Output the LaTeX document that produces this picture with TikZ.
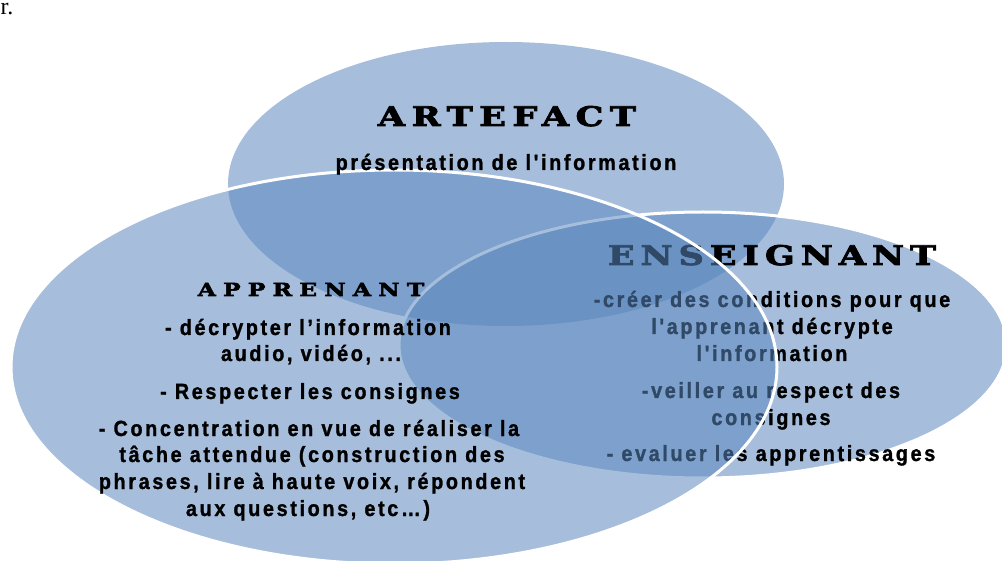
\documentclass[tikz,border=0pt]{standalone}
\usepackage{fontspec}
\newfontfamily\bodyfont{Liberation Sans}[FakeStretch=0.9,LetterSpace=12,FakeBold=1.2]
\newfontfamily\titlefont{DejaVu Serif}[FakeStretch=1.3,FakeBold=3]
\newfontfamily\corner{Liberation Serif}
\definecolor{venn}{RGB}{90,135,190}
\begin{document}
\begin{tikzpicture}[x=1pt,y=-1pt,
  setfill/.style={fill=venn, fill opacity=0.54},
  setedge/.style={draw=white, line width=3pt},
  settitle/.style={anchor=base, inner sep=0, text=black},
  body/.style={anchor=base, inner sep=0, text=black, font=\bodyfont\bfseries\fontsize{22}{26}\selectfont}]
\useasboundingbox (0,0) rectangle (1002,561);
\clip (0,0) rectangle (1002,561);
% sets
\fill[setfill] (506,184) ellipse [x radius=278, y radius=142];
\path[setfill] (703,345) ellipse [x radius=304, y radius=133];
\draw[setedge] (703,345) ellipse [x radius=304, y radius=133];
% enseignant text (under the apprenant set)
\node[settitle, font=\titlefont\bfseries\fontsize{27}{30}\selectfont\addfontfeature{LetterSpace=22}] (ens) at (772,265) {ENSEIGNANT};
\node[body] (e1) at (772,307) {-créer des conditions pour que};
\node[body] (e2) at (772,334) {l'apprenant décrypte};
\node[body] (e3) at (772,361) {l'information};
\node[body] (e4) at (771,398) {-veiller au respect des};
\node[body] (e5) at (771,425) {consignes};
\node[body] (e6) at (771,461) {- evaluer les apprentissages};
% apprenant set
\path[setfill] (394,367) ellipse [x radius=383, y radius=197];
\draw[setedge] (394,367) ellipse [x radius=383, y radius=197];
% artefact text
\node[settitle, font=\titlefont\bfseries\fontsize{27}{30}\selectfont\addfontfeature{LetterSpace=24}] (art) at (507,126) {ARTEFACT};
\node[body] (a1) at (506,170) {présentation de l'information};
% apprenant text
\node[settitle, font=\titlefont\bfseries\fontsize{18}{20}\selectfont\addfontfeature{LetterSpace=40}] (app) at (311,296) {APPRENANT};
\node[body] (p1) at (308,335) {- décrypter l’information};
\node[body] (p2) at (311,361) {audio, vidéo, ...};
\node[body] (p3) at (310,399) {- Respecter les consignes};
\node[body] (p4) at (309,436) {- Concentration en vue de réaliser la};
\node[body] (p5) at (312,462) {tâche attendue (construction des};
\node[body] (p6) at (312,489) {phrases, lire à haute voix, répondent};
\node[body] (p7) at (308,516) {aux questions, etc…)};
% stray fragment at the corner
\node[anchor=base west, inner sep=0, font=\corner\fontsize{24}{26}\selectfont] (frag) at (0.5,15) {r.};
\end{tikzpicture}
\end{document}
